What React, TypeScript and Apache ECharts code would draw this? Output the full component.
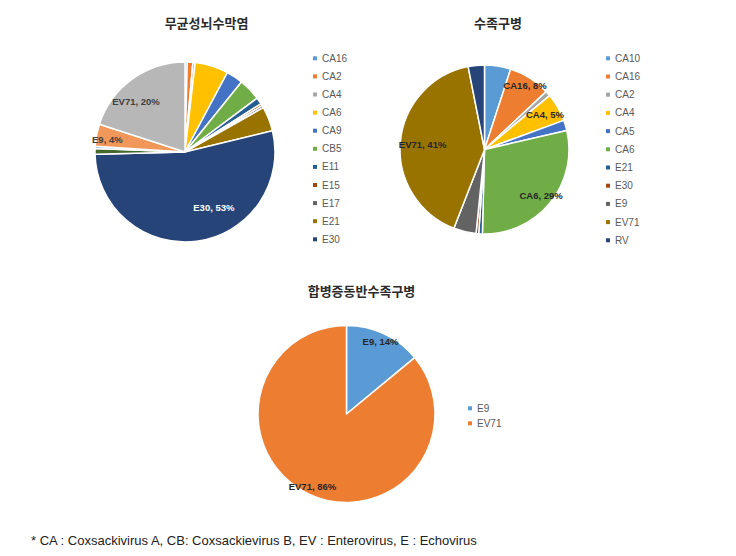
import React, { useEffect, useRef } from 'react';
import * as echarts from 'echarts';

// Office-style palette used by the source workbook
const palette = ['#5B9BD5', '#ED7D31', '#A5A5A5', '#FFC000', '#4472C4', '#70AD47', '#255E91', '#9E480E', '#636363', '#997300', '#264478', '#43682B', '#7CAFDD', '#F1975A', '#B7B7B7', '#FFCD33'];

// 무균성뇌수막염 (aseptic meningitis)
const meningitisNames = ['CA16', 'CA2', 'CA4', 'CA6', 'CA9', 'CB5', 'E11', 'E15', 'E17', 'E21', 'E30', 'E6', 'E7', 'E9', 'EV71'];
const meningitisValues = [0.4, 1, 0.4, 6, 3, 4, 1.2, 0.4, 0.4, 4.4, 53.4, 1, 0.4, 4, 20];
const meningitisLegend = ['CA16', 'CA2', 'CA4', 'CA6', 'CA9', 'CB5', 'E11', 'E15', 'E17', 'E21', 'E30'];

// 수족구병 (hand, foot and mouth disease)
const hfmdNames = ['CA10', 'CA16', 'CA2', 'CA4', 'CA5', 'CA6', 'E21', 'E30', 'E9', 'EV71', 'RV'];
const hfmdValues = [5, 8, 1, 5.4, 2, 29, 0.7, 0.5, 4.3, 41, 3.1];
const hfmdLegend = ['CA10', 'CA16', 'CA2', 'CA4', 'CA5', 'CA6', 'E21', 'E30', 'E9', 'EV71', 'RV'];

// 합병증동반수족구병 (HFMD with complications)
const complicatedNames = ['E9', 'EV71'];
const complicatedValues = [14, 86];
const complicatedLegend = ['E9', 'EV71'];

const titles = ['무균성뇌수막염', '수족구병', '합병증동반수족구병'];
const footnote = '* CA : Coxsackivirus A, CB: Coxsackievirus B, EV : Enterovirus, E : Echovirus';

function mainPie(names: string[], values: number[], center: number[], r: number) {
  return {
    type: 'pie',
    center,
    radius: [0, r],
    startAngle: 90,
    clockwise: true,
    silent: true,
    label: { show: false },
    labelLine: { show: false },
    itemStyle: { borderColor: '#ffffff', borderWidth: 1.5 },
    data: names.map((n, i) => ({ name: n, value: values[i], itemStyle: { color: palette[i % palette.length] } })),
  };
}

function labelPie(names: string[], values: number[], center: number[], r: number, ratio: number, show: string[], color: string, shift = 0) {
  return {
    type: 'pie',
    center,
    radius: [0, 2 * ratio * r],
    startAngle: 90 - shift,
    clockwise: true,
    silent: true,
    z: 5,
    labelLine: { show: false },
    itemStyle: { borderWidth: 0 },
    label: {
      show: false,
      position: 'inside',
      color,
      fontSize: 9.5,
      fontWeight: 'bold',
      fontFamily: 'Liberation Sans, Arial, sans-serif',
      formatter: (p: any) => `${p.name}, ${Math.round(p.percent)}%`,
    },
    data: names.map((n, i) => ({
      name: n,
      value: values[i],
      itemStyle: { color: 'rgba(0,0,0,0)' },
      label: { show: show.indexOf(n) >= 0 },
    })),
  };
}

function legendFor(names: string[], allNames: string[], left: number, top: number, itemGap: number) {
  return {
    orient: 'vertical',
    left,
    top,
    icon: 'rect',
    itemWidth: 4,
    itemHeight: 4,
    itemGap,
    selectedMode: false,
    padding: 0,
    textStyle: { fontSize: 10, color: '#595959', lineHeight: 10, fontFamily: 'Liberation Sans, Arial, sans-serif' },
    data: names.map((n) => ({
      name: n,
      itemStyle: { color: palette[allNames.indexOf(n) % palette.length], borderWidth: 0 },
    })),
  };
}

export default function App() {
  const ref = useRef<HTMLDivElement>(null);
  useEffect(() => {
    if (!ref.current) return;
    const chart = echarts.init(ref.current, null, { renderer: 'svg' });
    const c1 = [185, 152];
    const r1 = 90;
    const c2 = [484.5, 149.5];
    const r2 = 84.5;
    const c3 = [346.5, 414];
    const r3 = 88.5;
    const titleStyle = { fontSize: 13, fontWeight: 'bold', fill: '#2b2b2b', fontFamily: 'Noto Sans CJK KR, sans-serif', textAlign: 'center', textVerticalAlign: 'middle' };
    chart.setOption({
      animation: false,
      backgroundColor: '#ffffff',
      legend: [
        legendFor(meningitisLegend, meningitisNames, 313, 53.3, 8.1),
        legendFor(hfmdLegend, hfmdNames, 606, 53.3, 8.2),
        legendFor(complicatedLegend, complicatedNames, 468, 403.3, 5),
      ],
      graphic: [
        { type: 'text', x: 206.5, y: 22, style: { text: titles[0], ...titleStyle } },
        { type: 'text', x: 498, y: 22, style: { text: titles[1], ...titleStyle } },
        { type: 'text', x: 361.5, y: 290, style: { text: titles[2], ...titleStyle } },
        { type: 'text', x: 31, y: 540, style: { text: footnote, fontSize: 13, fill: '#222222', fontFamily: 'Liberation Sans, Arial, sans-serif', textVerticalAlign: 'middle' } },
      ],
      series: [
        mainPie(meningitisNames, meningitisValues, c1, r1),
        mainPie(hfmdNames, hfmdValues, c2, r2),
        mainPie(complicatedNames, complicatedValues, c3, r3),
        labelPie(meningitisNames, meningitisValues, c1, r1, 0.66, ['E30'], '#ffffff', -20),
        labelPie(meningitisNames, meningitisValues, c1, r1, 0.75, ['EV71'], '#404040', -8),
        labelPie(meningitisNames, meningitisValues, c1, r1, 0.84, ['E9'], '#404040', -2),
        labelPie(hfmdNames, hfmdValues, c2, r2, 0.86, ['CA16'], '#262626'),
        labelPie(hfmdNames, hfmdValues, c2, r2, 0.79, ['CA4'], '#262626'),
        labelPie(hfmdNames, hfmdValues, c2, r2, 0.83, ['CA6'], '#262626'),
        labelPie(hfmdNames, hfmdValues, c2, r2, 0.7, ['EV71'], '#262626'),
        labelPie(complicatedNames, complicatedValues, c3, r3, 0.87, ['E9', 'EV71'], '#262626'),
      ],
    });
    return () => chart.dispose();
  }, []);
  return <div ref={ref} style={{ position: 'absolute', left: 0, top: 0, width: 736, height: 556 }} />;
}
